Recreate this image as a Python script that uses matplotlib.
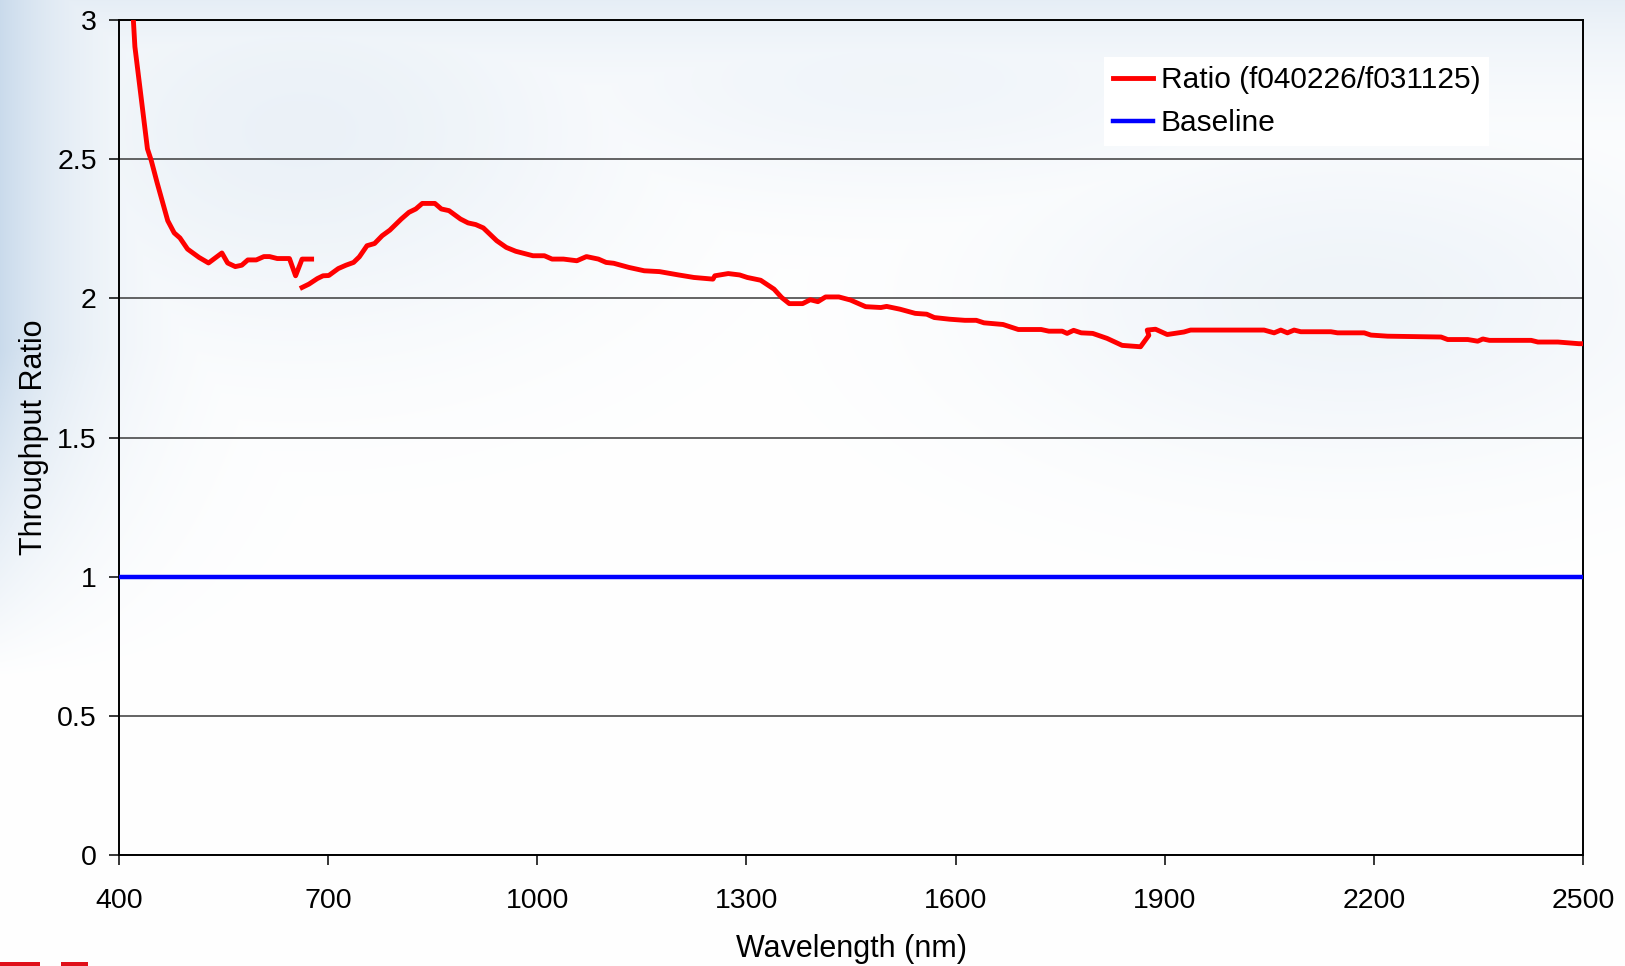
import numpy as np
import matplotlib
matplotlib.use("Agg")
import matplotlib.pyplot as plt
from matplotlib.patches import Rectangle

# ---------------- data ----------------
# Visible-detector segment
wl_vis = [417, 420.6, 422.8, 440.8, 446.3, 454.5, 469.9, 479.2, 487.4, 498.3, 514.8,
          528.4, 547.6, 555.8, 566.8, 576.1, 584.8, 596.9, 607.8, 616.0, 627.0,
          644.5, 653.3, 662.6, 676.3]
ratio_vis = [3.12, 3.00, 2.904, 2.537, 2.495, 2.417, 2.279, 2.235, 2.217, 2.177, 2.147,
             2.127, 2.163, 2.127, 2.114, 2.119, 2.138, 2.138, 2.150, 2.150, 2.143,
             2.143, 2.081, 2.141, 2.141]

# Infrared-detector segment
wl_ir = [662.6, 672.4, 684.5, 692.7, 700.9, 714.6, 725.5, 736.5, 744.7, 755.7, 766.6,
         777.5, 788.5, 804.9, 815.9, 825.7, 835.0, 853.1, 862.4, 873.4, 889.8, 900.7,
         911.7, 922.6, 941.8, 955.5, 969.2, 993.8, 1010.2, 1021.2, 1037.6, 1056.8,
         1070.5, 1087.7, 1098.7, 1109.6, 1131.5, 1153.4, 1175.3, 1202.7, 1224.6,
         1252.0, 1254.7, 1273.9, 1290.3, 1301.2, 1320.4, 1339.6, 1350.5, 1361.5,
         1380.6, 1391.6, 1402.5, 1413.5, 1432.6, 1449.1, 1471.0, 1492.9, 1501.1,
         1520.2, 1542.1, 1558.6, 1569.5, 1591.4, 1613.3, 1629.7, 1640.7, 1668.1,
         1690.0, 1722.8, 1733.8, 1752.9, 1760.0, 1769.3, 1780.3, 1796.7, 1817.4,
         1838.9, 1865.3, 1877.2, 1874.9, 1886.8, 1903.6, 1927.5, 1937.1, 2042.5,
         2056.9, 2066.5, 2076.0, 2085.6, 2095.2, 2138.3, 2147.9, 2186.2, 2195.8,
         2219.7, 2296.4, 2305.9, 2334.7, 2349.0, 2356.3, 2365.8, 2425.7, 2435.3,
         2464.0, 2494.2, 2500.0]
ratio_ir = [2.039, 2.051, 2.071, 2.081, 2.082, 2.107, 2.119, 2.129, 2.149, 2.189, 2.197,
            2.225, 2.245, 2.285, 2.309, 2.321, 2.341, 2.341, 2.321, 2.315, 2.285, 2.271,
            2.265, 2.253, 2.207, 2.183, 2.169, 2.153, 2.153, 2.141, 2.141, 2.135,
            2.150, 2.141, 2.129, 2.126, 2.111, 2.099, 2.096, 2.084, 2.075,
            2.069, 2.081, 2.089, 2.084, 2.075, 2.065, 2.033, 2.003, 1.981,
            1.981, 1.995, 1.988, 2.005, 2.005, 1.994, 1.970, 1.967, 1.971,
            1.961, 1.946, 1.943, 1.931, 1.925, 1.921, 1.921, 1.912, 1.906,
            1.888, 1.888, 1.882, 1.882, 1.874, 1.885, 1.876, 1.874, 1.856,
            1.831, 1.826, 1.867, 1.886, 1.889, 1.870, 1.879, 1.886, 1.886,
            1.876, 1.886, 1.876, 1.886, 1.880, 1.880, 1.876, 1.876, 1.868,
            1.864, 1.861, 1.852, 1.852, 1.846, 1.854, 1.849, 1.849, 1.843,
            1.843, 1.837, 1.837]

wl_base = [400, 2500]
ratio_base = [1.0, 1.0]

x_ticks = [400, 700, 1000, 1300, 1600, 1900, 2200, 2500]
y_ticks = [0, 0.5, 1, 1.5, 2, 2.5, 3]
y_tick_labels = ["0", "0.5", "1", "1.5", "2", "2.5", "3"]

series_labels = ["Ratio (f040226/f031125)", "Baseline"]
x_label = "Wavelength (nm)"
y_label = "Throughput Ratio"

# ---------------- figure ----------------
W, H = 1625, 966
plt.rcParams['font.family'] = ['Liberation Sans', 'DejaVu Sans']
fig = plt.figure(figsize=(W / 100, H / 100), dpi=100)

# soft slide-style background
bg = fig.add_axes([0, 0, 1, 1], zorder=-10)
yy, xx = np.mgrid[0:H, 0:W].astype(float)
tint = np.zeros((H, W))
tint = np.maximum(tint, 0.95 * np.exp(-xx / 90.0) * np.clip((680 - yy) / 330.0, 0, 1))
tint = np.maximum(tint, 0.45 * np.exp(-yy / 80.0))
tint = np.maximum(tint, 0.35 * np.exp(-((xx - 300) ** 2) / (2 * 230 ** 2) - (yy - 130) ** 2 / (2 * 150 ** 2)))
tint = np.maximum(tint, 0.28 * np.exp(-((xx - 1350) ** 2) / (2 * 250 ** 2) - (yy - 300) ** 2 / (2 * 120 ** 2)))
tint = np.maximum(tint, 0.25 * np.exp(-((xx - 900) ** 2) / (2 * 300 ** 2) - (yy - 80) ** 2 / (2 * 90 ** 2)))
tint = np.clip(tint, 0, 1)
blue = np.array([0.78, 0.85, 0.92])
img = 1 - tint[..., None] * (1 - blue[None, None, :])
bg.imshow(img, extent=[0, W, H, 0], aspect='auto', interpolation='bilinear')
bg.set_xlim(0, W)
bg.set_ylim(H, 0)
bg.axis('off')

# tiny red logo fragment at bottom-left corner
fig.patches.append(Rectangle((0, 0), 40 / W, 4 / H, transform=fig.transFigure,
                             facecolor='#e0101a', edgecolor='none'))
fig.patches.append(Rectangle((61 / W, 0), 27 / W, 4 / H, transform=fig.transFigure,
                             facecolor='#e0101a', edgecolor='none'))

left, right, top, bottom = 119, 1583, 20, 855
ax = fig.add_axes([left / W, 1 - bottom / H, (right - left) / W, (bottom - top) / H])
ax.set_facecolor('none')

ax.plot(wl_vis, ratio_vis, color='#ff0000', lw=3.5, solid_joinstyle='round',
        label=series_labels[0], zorder=3)
ax.plot(wl_ir, ratio_ir, color='#ff0000', lw=3.5, solid_joinstyle='round', zorder=3)
ax.plot(wl_base, ratio_base, color='#0000ff', lw=3.2, label=series_labels[1], zorder=3)

ax.set_xlim(400, 2500)
ax.set_ylim(0, 3)
ax.set_xticks(x_ticks)
ax.set_yticks(y_ticks)
ax.set_yticklabels(y_tick_labels)
ax.yaxis.grid(True, color='#3a3a3a', lw=1.1)
ax.set_axisbelow(True)

for s in ax.spines.values():
    s.set_color('black')
    s.set_linewidth(1.4)

ax.tick_params(axis='both', direction='out', length=7, width=1.1, colors='black',
               labelsize=20.5)
ax.tick_params(axis='x', pad=17)
ax.tick_params(axis='y', pad=9)

ax.set_xlabel(x_label, fontsize=22, labelpad=14)
ax.set_ylabel(y_label, fontsize=22)
ax.yaxis.set_label_coords((49 - left) / (right - left), 0.5)

leg = ax.legend(loc='upper left', bbox_to_anchor=(1104 / W, 1 - 57 / H),
                bbox_transform=fig.transFigure, fontsize=21.5, frameon=True,
                fancybox=False, borderaxespad=0, borderpad=0.3,
                handlelength=1.35, handletextpad=0.25, labelspacing=0.52)
leg.get_frame().set_facecolor('white')
leg.get_frame().set_edgecolor('none')
leg.get_frame().set_alpha(1.0)

fig.savefig('out.png', dpi=100)
